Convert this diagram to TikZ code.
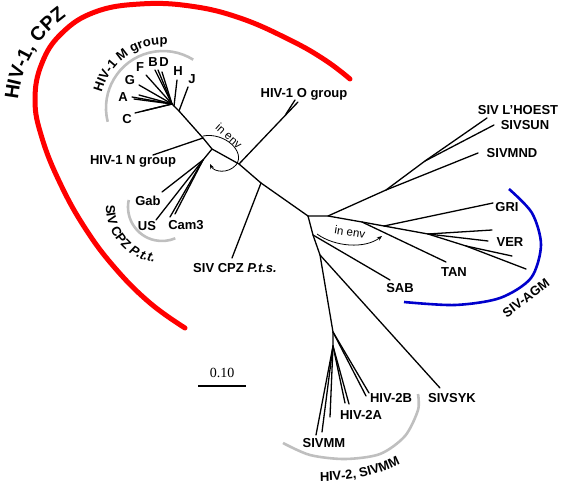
\documentclass[tikz,border=0pt]{standalone}
\usepackage{fontspec}
\setmainfont{Liberation Serif}
\setsansfont{Liberation Sans}
\usetikzlibrary{decorations.text,arrows.meta}
\newcommand\labfont{\sffamily\bfseries\fontsize{13}{15}\selectfont}
\newcommand\envfont{\sffamily\fontsize{11.5}{13}\selectfont}
\newcommand\bigfont{\sffamily\bfseries\fontsize{19.5}{21}\selectfont}
\tikzset{
	branch/.style={line width=1.3pt, line cap=round},
	lab/.style={font=\labfont, inner sep=1pt},
	grp/.style={line width=2.6pt, black!25},
	envarrow/.style={line width=.8pt, -{Stealth[length=5pt,width=4pt]}},
}
\begin{document}
\begin{tikzpicture}[x=1pt,y=1pt]
		\useasboundingbox (0,0) rectangle (564,-486);
		
		% group brackets
		\draw [red, line width=5pt, line cap=round] plot[smooth, tension=.7] coordinates {(185,-328) (150,-303) (115,-268) (85,-228) (60,-183) (42,-138) (35,-100) (42,-63) (62,-33) (95,-12) (140,-4) (190,-6) (240,-18) (290,-40) (325,-60) (350,-79)};
		\path [decorate, decoration={text along path, text={|\bigfont|HIV-1, CPZ}}] (18,-100) .. controls (21,-65) and (40,-30) .. (82,-7);
		\draw [grp] (163,-108) ++(194:57) arc[start angle=194, end angle=58, radius=57];
		\path [decorate, decoration={text along path, text={|\labfont|HIV-1 M group}}] (163,-108) ++(166:63) arc[start angle=166, end angle=75, radius=63];
		\draw [grp] (162,-207) ++(-192:34) arc[start angle=-192, end angle=-67, radius=34];
		\path [decorate, decoration={text along path, text={|\labfont|SIV CPZ |\labfont\itshape|P.t.t.}}] (162,-207) ++(178:56) arc[start angle=178, end angle=292, radius=56];
		\draw [grp] plot[smooth] coordinates {(283,-443) (310,-455) (345,-459) (380,-454) (405,-436) (418,-410) (418,-394)};
		\path [decorate, decoration={text along path, text={|\labfont|HIV-2, SIVMM}}] (320,-481) .. controls (355,-481) and (385,-474) .. (412,-457);
		\draw [blue!80!black, line width=2.6pt] plot[smooth] coordinates {(509,-189) (532,-213) (541,-245) (531,-278) (500,-298) (455,-305) (404,-302)};
		\node [lab, rotate=37] (agm) at (526,-298) {SIV-AGM};
		
		% backbone
		\coordinate (mhub) at (172,-104); \coordinate (jn) at (179,-111);
		\coordinate (nn) at (203,-138); \coordinate (ptt) at (212,-149);
		\coordinate (on) at (239,-164); \coordinate (pts) at (261,-183);
		\coordinate (ctr) at (308,-216);
		\draw [branch] (mhub) -- (jn) -- (nn) -- (ptt) -- (on) -- (pts) -- (ctr);
		
		% HIV-1 M group
		\coordinate (c1) at (135,-113); \coordinate (c2) at (143,-111);
		\coordinate (a1) at (132,-97); \coordinate (a2) at (134,-99); \coordinate (a3) at (139,-95);
		\coordinate (g1) at (139,-85); \coordinate (f1) at (146,-75);
		\coordinate (b1) at (155,-70); \coordinate (b2) at (158,-70); \coordinate (d1) at (162,-72);
		\coordinate (hn) at (174,-106); \coordinate (h1) at (177,-80); \coordinate (j1) at (188,-87);
		\foreach \t in {c1,c2,a1,a2,a3,g1,f1,b1,b2,d1} \draw [branch] (mhub) -- (\t);
		\draw [branch] (hn) -- (h1); \draw [branch] (jn) -- (j1);
		\node [lab] (C) at (127,-119) {C}; \node [lab] (A) at (123,-97) {A};
		\node [lab] (G) at (130,-80) {G}; \node [lab] (F) at (140,-67) {F};
		\node [lab] (B) at (153,-62) {B}; \node [lab] (D) at (164,-62) {D};
		\node [lab] (H) at (178,-71) {H}; \node [lab] (J) at (192,-79) {J};
		
		% N, O, P.t.t., P.t.s.
		\coordinate (ntip) at (153,-155); \draw [branch] (nn) -- (ntip);
		\node [lab] (ngroup) at (133,-161) {HIV-1 N group};
		\coordinate (otip) at (298,-102); \coordinate (ofork) at (286,-114); \coordinate (otip2) at (295,-100);
		\draw [branch] (on) -- (otip); \draw [branch] (ofork) -- (otip2);
		\node [lab] (ogroup) at (304,-94) {HIV-1 O group};
		\coordinate (pttn) at (203,-160);
		\coordinate (gab1) at (162,-192); \coordinate (us1) at (156,-220);
		\coordinate (cam1) at (170,-217); \coordinate (cam2) at (175,-214);
		\draw [branch] (ptt) -- (pttn);
		\foreach \t in {gab1,us1,cam1,cam2} \draw [branch] (pttn) -- (\t);
		\node [lab] (gab) at (148,-201) {Gab}; \node [lab] (us) at (147,-226) {US};
		\node [lab] (cam) at (186,-225) {Cam3};
		\coordinate (ptstip) at (232,-258); \draw [branch] (pts) -- (ptstip);
		\node [lab] (ptslab) at (235,-268) {SIV CPZ \textit{P.t.s.}};
		
		% in env
		\draw [envarrow] (203,-136) .. controls (225,-132) and (246,-152) .. (236,-165) .. controls (228,-174) and (214,-172) .. (210,-164);
		\node [font=\envfont, rotate=-42] (env1) at (229,-136) {in env};
		\draw [envarrow] (317,-234) .. controls (335,-247) and (365,-249) .. (382,-236);
		\node [font=\envfont, rotate=-9] (env2) at (350,-232) {in env};
		
		% L'Hoest, Sun, Mnd
		\coordinate (n1) at (328,-216); \coordinate (n2) at (386,-190); \coordinate (n3) at (425,-161);
		\coordinate (mnd1) at (478,-153); \coordinate (lh1) at (487,-118); \coordinate (sun1) at (494,-125);
		\draw [branch] (ctr) -- (n1) -- (n2) -- (n3) -- (lh1); \draw [branch] (n2) -- (mnd1); \draw [branch] (n3) -- (sun1);
		\node [lab] (lhoest) at (518,-110) {SIV L'HOEST}; \node [lab] (sun) at (525,-125) {SIVSUN};
		\node [lab] (mnd) at (512,-153) {SIVMND};
		
		% AGM
		\coordinate (g2) at (362,-222); \coordinate (g3) at (384,-226); \coordinate (g4) at (428,-234); \coordinate (g5) at (466,-246);
		\coordinate (ver1) at (492,-230); \coordinate (ver2) at (488,-241); \coordinate (ver3) at (512,-256); \coordinate (ver4) at (526,-269);
		\coordinate (gri1) at (493,-203); \coordinate (tan1) at (446,-262);
		\draw [branch] (n1) -- (g2) -- (g3) -- (g4) -- (g5) -- (ver4);
		\draw [branch] (g5) -- (ver3); \draw [branch] (g4) -- (ver1); \draw [branch] (g4) -- (ver2);
		\draw [branch] (g3) -- (gri1); \draw [branch] (g2) -- (tan1);
		\node [lab] (gri) at (507,-207) {GRI}; \node [lab] (ver) at (510,-242) {VER};
		\node [lab] (tan) at (454,-272) {TAN};
		
		% SAB, SYK, HIV-2
		\coordinate (l1) at (313,-235); \coordinate (l2) at (320,-255); \coordinate (h2) at (333,-332); \coordinate (h2s) at (333,-346);
		\coordinate (sab1) at (390,-280); \coordinate (syk1) at (440,-388);
		\draw [branch] (ctr) -- (l1) -- (l2) -- (h2) -- (h2s);
		\draw [branch] (l1) -- (sab1); \draw [branch] (l2) -- (syk1);
		\node [lab] (sab) at (400,-288) {SAB}; \node [lab] (syk) at (452,-398) {SIVSYK};
		\coordinate (b2a) at (369,-393); \coordinate (b2b) at (366,-396);
		\coordinate (a2a) at (345,-403); \coordinate (a2b) at (349,-404);
		\coordinate (mm1) at (330,-417); \coordinate (mm2) at (322,-432); \coordinate (mm3) at (316,-435);
		\draw [branch] (h2) -- (b2a); \draw [branch] (h2) -- (b2b);
		\foreach \t in {a2a,a2b,mm1,mm2,mm3} \draw [branch] (h2s) -- (\t);
		\node [lab] (hiv2b) at (391,-398) {HIV-2B}; \node [lab] (hiv2a) at (361,-415) {HIV-2A};
		\node [lab] (sivmm) at (324,-443) {SIVMM};
		
		% scale bar
		\coordinate (sb1) at (198,-386); \coordinate (sb2) at (246,-386);
		\draw [line width=1.2pt] (sb1) -- (sb2);
		\node [font=\fontsize{14}{16}\selectfont] (sbl) at (222,-373) {0.10};
\end{tikzpicture}
\end{document}
